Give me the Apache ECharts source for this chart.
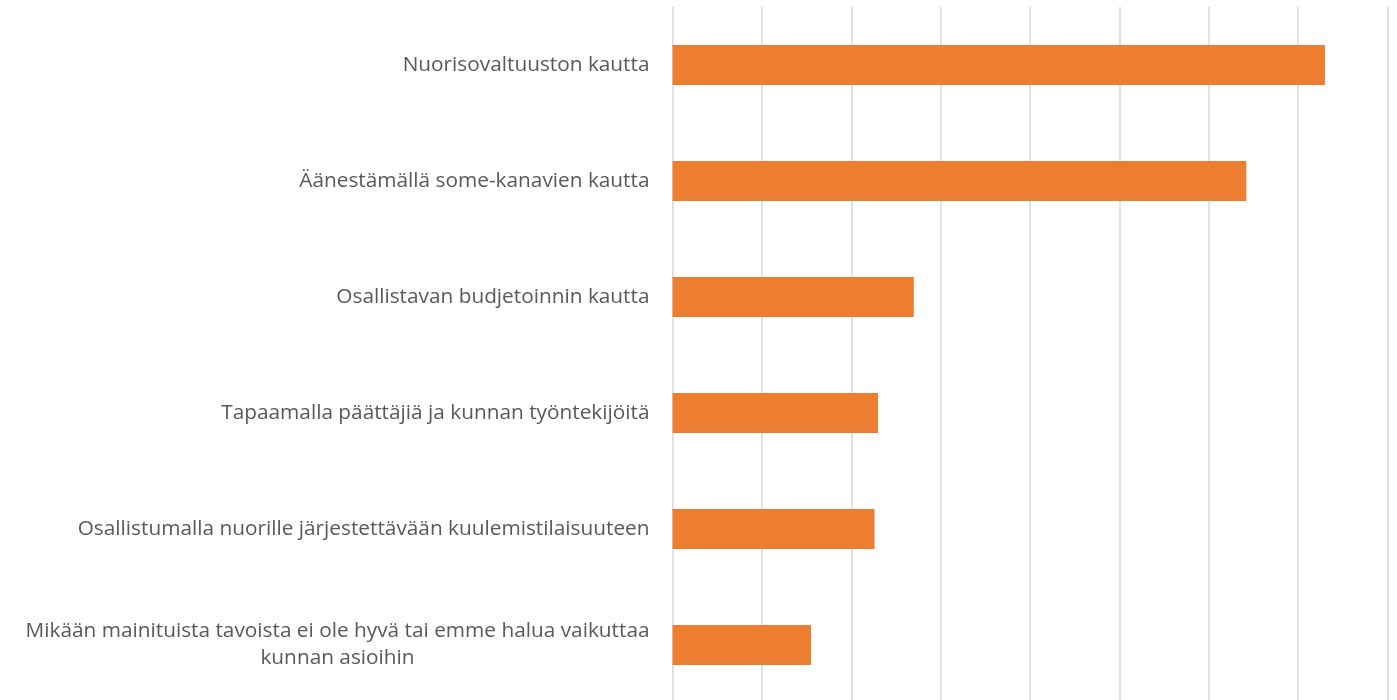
<!DOCTYPE html>
<html>
<head>
<meta charset="utf-8">
<style>
  html, body { margin: 0; padding: 0; background: #fff; overflow: hidden; }
  #chart { width: 1397px; height: 710px; }
</style>
<script src="https://cdn.jsdelivr.net/npm/echarts@6/dist/echarts.min.js"></script>
</head>
<body>
<div id="chart"></div>
<script>
const categories = [
  'Nuorisovaltuuston kautta',
  'Äänestämällä some-kanavien kautta',
  'Osallistavan budjetoinnin kautta',
  'Tapaamalla päättäjiä ja kunnan työntekijöitä',
  'Osallistumalla nuorille järjestettävään kuulemistilaisuuteen',
  'Mikään mainituista tavoista ei ole hyvä tai emme halua vaikuttaa\nkunnan asioihin'
]
const values = [36.5, 32.1, 13.5, 11.5, 11.3, 7.75]

const chart = echarts.init(document.getElementById('chart'), null, { renderer: 'canvas' })

const labelFont = { fontFamily: 'Open Sans', fontSize: 20.8, color: '#595959' }

// plot runs a little past the bottom edge of the window, like the source image
chart.setOption({
  animation: false,
  grid: { left: 672.5, top: 7, width: 715, height: 696 },
  xAxis: {
    type: 'value',
    min: 0,
    max: 40,
    interval: 5,
    axisLine: { show: false },
    axisTick: { show: false },
    axisLabel: { show: false },
    splitLine: { lineStyle: { color: '#d9d9d9', width: 1.5 } }
  },
  yAxis: {
    type: 'category',
    inverse: true,
    data: categories,
    axisLine: { show: false },
    axisTick: { show: false },
    axisLabel: {
      margin: 23,
      ...labelFont,
      lineHeight: 27,
      formatter: (val) => {
        if (val.indexOf('\n') < 0) return val
        return val.split('\n').map(s => '{c|' + s + '}').join('\n')
      },
      rich: {
        c: { align: 'center', ...labelFont, lineHeight: 27 }
      }
    }
  },
  series: [{
    type: 'bar',
    data: values,
    barWidth: '34.5%',
    itemStyle: { color: '#ED7D31' }
  }]
})
</script>
</body>
</html>
